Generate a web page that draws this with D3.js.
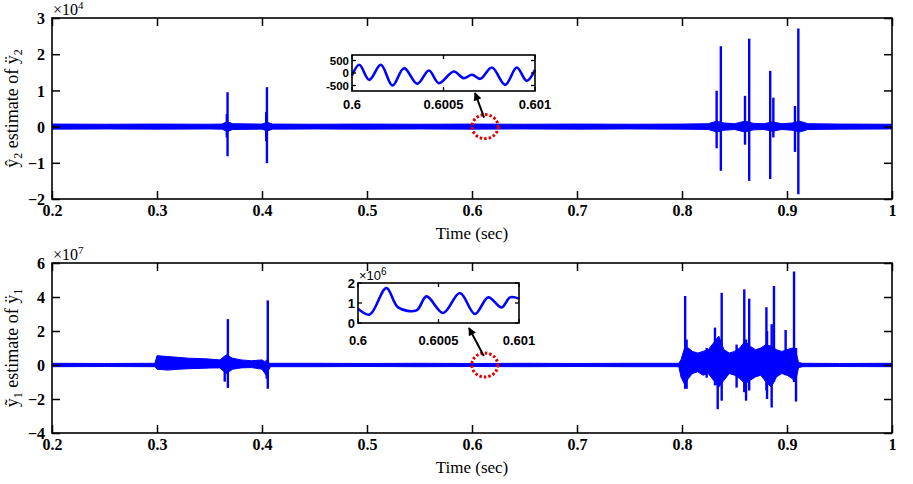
<!DOCTYPE html>
<html><head><meta charset="utf-8">
<script src="https://cdn.jsdelivr.net/npm/d3@7"></script>
<style>
body{margin:0;background:#fff;}
svg{display:block;}
</style></head>
<body>
<svg id="c" width="913" height="484"></svg>
<script>
// ---------------- DATA ----------------
const xTicks = [0.2,0.3,0.4,0.5,0.6,0.7,0.8,0.9,1];
const topYTicks = [-2,-1,0,1,2,3];
const botYTicks = [-4,-2,0,2,4,6];

// Top panel (x1e4): baseline noise envelope
const topEnvT  = [0.2,0.25,0.3,0.35,0.362,0.367,0.372,0.4,0.405,0.41,0.45,0.5,0.55,0.6,0.65,0.7,0.75,0.8,0.825,0.833,0.84,0.85,0.86,0.868,0.878,0.886,0.895,0.905,0.912,0.92,0.95,1.0];
const topEnvHi = [0.07,0.065,0.07,0.065,0.07,0.14,0.08,0.07,0.12,0.07,0.065,0.07,0.065,0.07,0.065,0.07,0.065,0.07,0.08,0.15,0.1,0.08,0.15,0.09,0.08,0.13,0.08,0.1,0.15,0.08,0.07,0.065];
const topEnvLo = [-0.07,-0.065,-0.07,-0.065,-0.07,-0.14,-0.08,-0.07,-0.12,-0.07,-0.065,-0.07,-0.065,-0.07,-0.065,-0.07,-0.065,-0.07,-0.08,-0.15,-0.1,-0.08,-0.15,-0.09,-0.08,-0.13,-0.08,-0.1,-0.15,-0.08,-0.07,-0.065];
// Top panel spikes
const topSpikeT  = [0.3665,0.3672,0.4040,0.4047,0.8330,0.8370,0.8600,0.8640,0.8840,0.8870,0.9076,0.9108];
const topSpikeHi = [0.35,0.95,0.4,1.09,0.99,2.22,0.85,2.43,1.54,0.80,0.57,2.71];
const topSpikeLo = [-0.3,-0.82,-0.4,-1.01,-0.6,-1.22,-0.5,-1.50,-1.45,-0.30,-0.70,-1.87];

// Bottom panel (x1e7): baseline + noisy envelope
const botEnvT  = [0.2,0.25,0.298,0.300,0.31,0.32,0.33,0.34,0.35,0.36,0.366,0.372,0.38,0.39,0.4,0.404,0.408,0.45,0.5,0.55,0.6,0.65,0.7,0.75,0.797,0.799,0.803,0.806,0.81,0.815,0.82,0.825,0.83,0.835,0.84,0.845,0.85,0.855,0.86,0.865,0.87,0.875,0.88,0.885,0.89,0.895,0.9,0.905,0.908,0.911,0.915,0.95,1.0];
const botEnvHi = [0.1,0.09,0.1,0.55,0.5,0.45,0.4,0.38,0.35,0.3,0.6,0.4,0.3,0.25,0.3,0.15,0.1,0.1,0.09,0.1,0.09,0.1,0.09,0.1,0.1,0.3,1.1,1.0,0.8,0.7,0.8,0.9,1.3,1.7,0.9,0.7,0.8,1.0,1.4,1.1,0.9,1.0,1.2,1.1,0.9,0.8,0.9,1.0,0.9,0.15,0.1,0.09,0.1];
const botEnvLo = [-0.1,-0.09,-0.1,-0.25,-0.3,-0.25,-0.22,-0.2,-0.18,-0.17,-0.5,-0.25,-0.17,-0.15,-0.25,-0.6,-0.1,-0.1,-0.09,-0.1,-0.09,-0.1,-0.09,-0.1,-0.1,-0.7,-1.2,-0.8,-0.5,-0.4,-0.6,-0.5,-0.9,-1.3,-0.9,-0.5,-0.6,-0.8,-1.1,-0.9,-0.7,-0.6,-1.0,-1.3,-0.7,-0.5,-0.6,-0.8,-1.0,-0.15,-0.1,-0.09,-0.1];
// Bottom panel spikes
const botSpikeT  = [0.3645,0.3675,0.4045,0.4055,0.8030,0.8044,0.8235,0.8314,0.8340,0.8378,0.8520,0.8593,0.8610,0.8640,0.8804,0.8810,0.8854,0.8876,0.8987,0.9067,0.9086];
const botSpikeHi = [0.5,2.7,0.3,3.8,4.06,1.5,1.0,2.2,1.5,4.25,1.2,4.45,1.5,3.9,3.4,2.0,2.4,4.65,2.06,5.5,1.0];
const botSpikeLo = [-0.98,-1.35,-0.8,-1.4,-1.4,-1.4,-0.75,-1.2,-2.6,-2.1,-1.33,-1.6,-2.1,-1.5,-1.5,-2.0,-2.5,-1.0,-0.6,-1.0,-2.15];

// Insets
const inset1T = [0.6,0.6000399,0.6000942,0.6001576,0.6002210,0.6002844,0.6003569,0.6004203,0.6004746,0.6005562,0.6006105,0.6006558,0.6007011,0.6007645,0.6008370,0.6009004,0.6009547,0.6010];
const inset1V = [-100,327,-273,327,-500,193,-433,100,-407,60,-207,-73,-233,220,-473,220,-313,127];
const inset1XTicks = [0.6,0.6005,0.601];
const inset1YTicks = [-500,0,500];
const inset2T = [0.6,0.6000726,0.6001763,0.6002490,0.6003631,0.6004253,0.6005290,0.6006328,0.6007261,0.6008091,0.6008921,0.6009440,0.6010];
const inset2V = [0.72,0.42,1.75,0.78,0.63,1.33,0.5,1.5,0.45,1.28,0.78,1.28,1.22];
const inset2XTicks = [0.6,0.6005,0.601];
const inset2YTicks = [0,1,2];

// Marker (zoom region) positions
const markT = [0.6125, 0.6122];

// ---------------- DRAW ----------------
const svg = d3.select("#c");
const BLUE = "#0000ff";
const serif = '"Liberation Serif","Times New Roman",serif';
const sans = '"Liberation Sans",Arial,sans-serif';

const defs = svg.append("defs");
defs.append("marker").attr("id","ah").attr("viewBox","0 0 10 10").attr("refX",9).attr("refY",5)
  .attr("markerWidth",5).attr("markerHeight",4).attr("orient","auto-start-reverse").attr("markerUnits","strokeWidth")
  .append("path").attr("d","M0,0 L10,5 L0,10 Z").attr("fill","#000");

function panel(cfg){
  const g = svg.append("g");
  const x = d3.scaleLinear().domain([0.2,1]).range([cfg.x0,cfg.x1]);
  const y = d3.scaleLinear().domain(cfg.ydom).range([cfg.y1,cfg.y0]);
  const clipId = "clip"+cfg.id;
  defs.append("clipPath").attr("id",clipId).append("rect")
    .attr("x",cfg.x0).attr("y",cfg.y0).attr("width",cfg.x1-cfg.x0).attr("height",cfg.y1-cfg.y0);
  const data = g.append("g").attr("clip-path",`url(#${clipId})`);
  const env = cfg.envT.map((t,i)=>({t,hi:cfg.envHi[i],lo:cfg.envLo[i]}));
  data.append("path").datum(env)
    .attr("d",d3.area().x(d=>x(d.t)).y0(d=>y(d.lo)).y1(d=>y(d.hi)))
    .attr("fill",BLUE).attr("stroke",BLUE).attr("stroke-width",1);
  const sp = cfg.spT.map((t,i)=>({t,hi:cfg.spHi[i],lo:cfg.spLo[i]}));
  data.selectAll("line.sp").data(sp).join("line").attr("class","sp")
    .attr("x1",d=>x(d.t)).attr("x2",d=>x(d.t))
    .attr("y1",d=>y(d.hi)).attr("y2",d=>y(d.lo))
    .attr("stroke",BLUE).attr("stroke-width",2.4);
  const tl = 8;
  const ax = g.append("g").attr("transform",`translate(0,${cfg.y1})`)
    .call(d3.axisBottom(x).tickValues(xTicks).tickSize(-tl).tickPadding(6).tickFormat(d3.format("")));
  ax.select(".domain").remove();
  const axT = g.append("g").attr("transform",`translate(0,${cfg.y0})`)
    .call(d3.axisTop(x).tickValues(xTicks).tickSize(-tl).tickFormat(""));
  axT.select(".domain").remove();
  const ay = g.append("g").attr("transform",`translate(${cfg.x0},0)`)
    .call(d3.axisLeft(y).tickValues(cfg.yTicks).tickSize(-tl).tickPadding(7).tickFormat(d3.format("")));
  ay.select(".domain").remove();
  const ayR = g.append("g").attr("transform",`translate(${cfg.x1},0)`)
    .call(d3.axisRight(y).tickValues(cfg.yTicks).tickSize(-tl).tickFormat(""));
  ayR.select(".domain").remove();
  g.selectAll(".tick line").attr("stroke","#000").attr("stroke-width",1.5);
  g.selectAll(".tick text").attr("font-family",serif).attr("font-weight","bold").attr("font-size",16).attr("fill","#000");
  ay.selectAll(".tick text").attr("dy","0.35em");
  g.append("rect").attr("x",cfg.x0).attr("y",cfg.y0).attr("width",cfg.x1-cfg.x0).attr("height",cfg.y1-cfg.y0)
    .attr("fill","none").attr("stroke","#000").attr("stroke-width",1.6);
  const ex = g.append("text").attr("x",cfg.x0+1).attr("y",cfg.y0-3)
    .attr("font-family",serif).attr("font-size",16);
  ex.append("tspan").text("×10");
  ex.append("tspan").attr("dy",-6).attr("font-size",11).text(cfg.exp);
  g.append("text").attr("x",(cfg.x0+cfg.x1)/2).attr("y",cfg.y1+40).attr("text-anchor","middle")
    .attr("font-family",serif).attr("font-size",17).text("Time (sec)");
  const yl = g.append("text").attr("transform",`translate(18,${(cfg.y0+cfg.y1)/2}) rotate(-90)`)
    .attr("text-anchor","middle").attr("font-family",serif).attr("font-size",18);
  yl.append("tspan").text(cfg.hat);
  yl.append("tspan").attr("font-size",12).attr("dy",4).text(cfg.sub);
  yl.append("tspan").attr("dy",-4).text(" estimate of ÿ");
  yl.append("tspan").attr("font-size",12).attr("dy",4).text(cfg.sub);
  return {x,y,g};
}

const P1 = panel({id:1,x0:52,x1:892,y0:18,y1:199,ydom:[-2,3],yTicks:topYTicks,exp:"4",
  envT:topEnvT,envHi:topEnvHi,envLo:topEnvLo,spT:topSpikeT,spHi:topSpikeHi,spLo:topSpikeLo,hat:"ŷ",sub:"2"});
const P2 = panel({id:2,x0:52,x1:892,y0:263,y1:433,ydom:[-4,6],yTicks:botYTicks,exp:"7",
  envT:botEnvT,envHi:botEnvHi,envLo:botEnvLo,spT:botSpikeT,spHi:botSpikeHi,spLo:botSpikeLo,hat:"ỹ",sub:"1"});

function inset(cfg){
  const g = svg.append("g");
  const x = d3.scaleLinear().domain([0.6,0.601]).range([cfg.x0,cfg.x1]);
  const y = d3.scaleLinear().domain(cfg.ydom).range([cfg.y1,cfg.y0]);
  g.append("rect").attr("x",cfg.x0).attr("y",cfg.y0).attr("width",cfg.x1-cfg.x0).attr("height",cfg.y1-cfg.y0)
    .attr("fill","#fff").attr("stroke","none");
  const pts = cfg.T.map((t,i)=>[t,cfg.V[i]]);
  g.append("path").datum(pts)
    .attr("d",d3.line().x(d=>x(d[0])).y(d=>y(d[1])).curve(d3.curveCatmullRom.alpha(0.5)))
    .attr("fill","none").attr("stroke",BLUE).attr("stroke-width",2.6);
  const tl=4;
  cfg.xT.forEach(v=>{
    g.append("line").attr("x1",x(v)).attr("x2",x(v)).attr("y1",cfg.y1).attr("y2",cfg.y1-tl).attr("stroke","#000").attr("stroke-width",1.3);
    g.append("line").attr("x1",x(v)).attr("x2",x(v)).attr("y1",cfg.y0).attr("y2",cfg.y0+tl).attr("stroke","#000").attr("stroke-width",1.3);
    g.append("text").attr("x",x(v)).attr("y",cfg.xLabY).attr("text-anchor","middle")
      .attr("font-family",sans).attr("font-weight","bold").attr("font-size",13).text(String(v));
  });
  cfg.yT.forEach(v=>{
    g.append("line").attr("x1",cfg.x0).attr("x2",cfg.x0+tl).attr("y1",y(v)).attr("y2",y(v)).attr("stroke","#000").attr("stroke-width",1.3);
    g.append("line").attr("x1",cfg.x1).attr("x2",cfg.x1-tl).attr("y1",y(v)).attr("y2",y(v)).attr("stroke","#000").attr("stroke-width",1.3);
    g.append("text").attr("x",cfg.x0-3).attr("y",y(v)).attr("dy","0.36em").attr("text-anchor","end")
      .attr("font-family",sans).attr("font-weight","bold").attr("font-size",cfg.yFs).text(String(v));
  });
  g.append("rect").attr("x",cfg.x0).attr("y",cfg.y0).attr("width",cfg.x1-cfg.x0).attr("height",cfg.y1-cfg.y0)
    .attr("fill","none").attr("stroke","#000").attr("stroke-width",1.6);
  if(cfg.exp){
    const ex = g.append("text").attr("x",cfg.x0+1).attr("y",cfg.y0-3)
      .attr("font-family",sans).attr("font-size",13);
    ex.append("tspan").text("×10");
    ex.append("tspan").attr("dy",-5).attr("font-size",10).text(cfg.exp);
  }
}
inset({x0:352,x1:535,y0:55,y1:91,ydom:[-720,720],T:inset1T,V:inset1V,xT:inset1XTicks,yT:inset1YTicks,xLabY:109,yFs:11.5});
inset({x0:358,x1:519,y0:283,y1:323,ydom:[0,2],T:inset2T,V:inset2V,xT:inset2XTicks,yT:inset2YTicks,xLabY:345,yFs:13,exp:"6"});

function mark(P,t,tip){
  const cx = P.x(t), cy = P.y(0);
  svg.append("ellipse").attr("cx",cx).attr("cy",cy).attr("rx",13).attr("ry",12)
    .attr("fill","none").attr("stroke","#e00000").attr("stroke-width",3).attr("stroke-dasharray","2.5,2");
  svg.append("line").attr("x1",cx-1).attr("y1",cy-9).attr("x2",tip[0]).attr("y2",tip[1])
    .attr("stroke","#000").attr("stroke-width",2).attr("marker-end","url(#ah)");
}
mark(P1,markT[0],[475,93]);
mark(P2,markT[1],[469,328]);
</script>
</body></html>
